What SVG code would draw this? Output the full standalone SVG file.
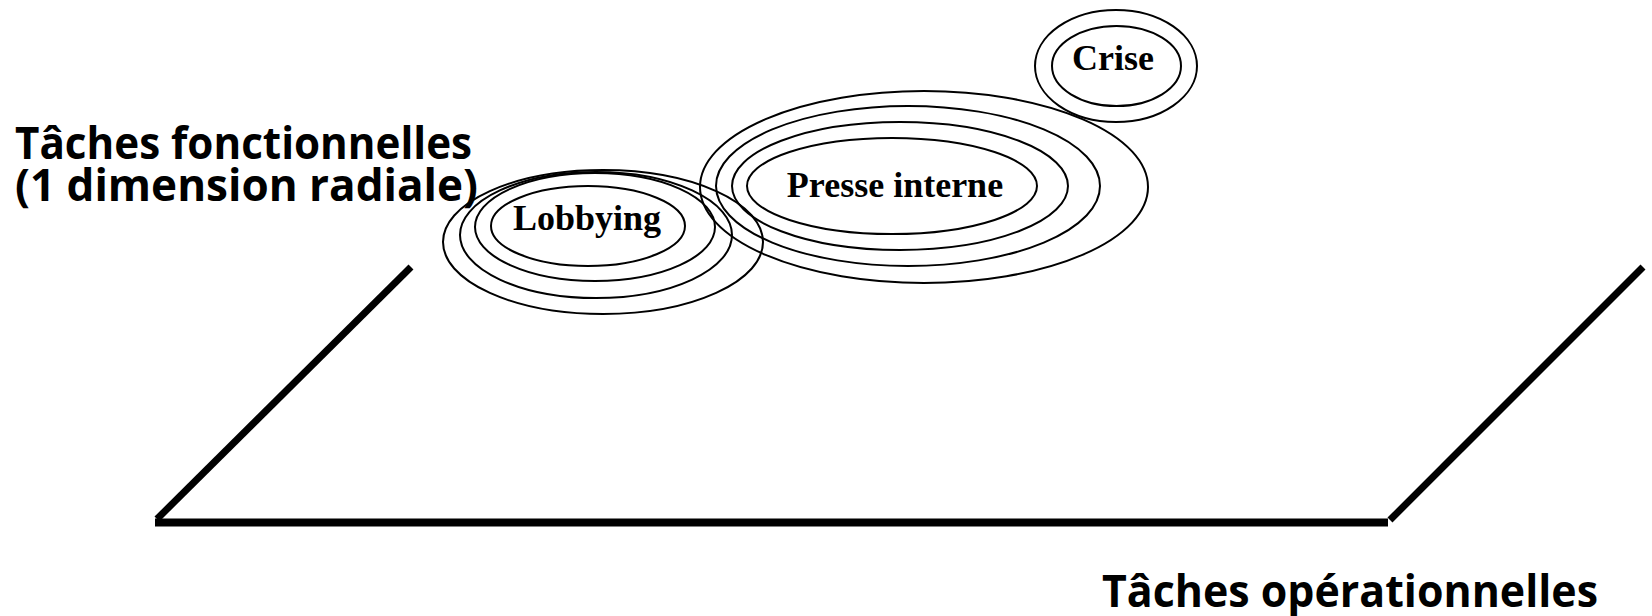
<svg xmlns="http://www.w3.org/2000/svg" width="1652" height="616" viewBox="0 0 1652 616">
<style>
.ring{fill:none;stroke:#000;stroke-width:2}
.lbl{font-family:"Liberation Serif","Times New Roman",serif;font-weight:bold;font-size:36px;fill:#000;text-anchor:middle}
.axis{font-family:"Open Sans","Noto Sans","DejaVu Sans",sans-serif;font-weight:bold;font-size:44px;fill:#000}
.edge{stroke:#000;fill:none}
</style>
<rect width="1652" height="616" fill="#fff"/>
<g id="connectors">
<line class="edge" x1="155" y1="522.5" x2="1388" y2="522.5" stroke-width="8"/>
<line class="edge" x1="157" y1="519" x2="411" y2="267" stroke-width="7"/>
<line class="edge" x1="1390" y1="520" x2="1643" y2="267" stroke-width="7"/>
</g>
<g id="axis-fonctionnelles">
<text class="axis" x="15" y="159" textLength="457" lengthAdjust="spacingAndGlyphs">Tâches fonctionnelles</text>
<text class="axis" x="15" y="201" textLength="463" lengthAdjust="spacingAndGlyphs">(1 dimension radiale)</text>
</g>
<g id="axis-operationnelles">
<text class="axis" x="1102" y="607" textLength="496" lengthAdjust="spacingAndGlyphs">Tâches opérationnelles</text>
</g>
<g id="lobbying">
<ellipse class="ring" cx="603" cy="242" rx="160" ry="72"/>
<ellipse class="ring" cx="596" cy="235" rx="136" ry="63"/>
<ellipse class="ring" cx="595" cy="227" rx="120" ry="54"/>
<ellipse class="ring" cx="588" cy="226" rx="97" ry="40"/>
<text class="lbl" x="587" y="230">Lobbying</text>
</g>
<g id="presse-interne">
<ellipse class="ring" cx="924" cy="187" rx="224" ry="96"/>
<ellipse class="ring" cx="908" cy="186" rx="192" ry="80"/>
<ellipse class="ring" cx="900" cy="186" rx="168" ry="64"/>
<ellipse class="ring" cx="892" cy="186" rx="145" ry="48"/>
<text class="lbl" x="895" y="197">Presse interne</text>
</g>
<g id="crise">
<ellipse class="ring" cx="1116" cy="66" rx="81" ry="56"/>
<ellipse class="ring" cx="1116.5" cy="66" rx="64.5" ry="40"/>
<text class="lbl" x="1113" y="70">Crise</text>
</g>
</svg>
